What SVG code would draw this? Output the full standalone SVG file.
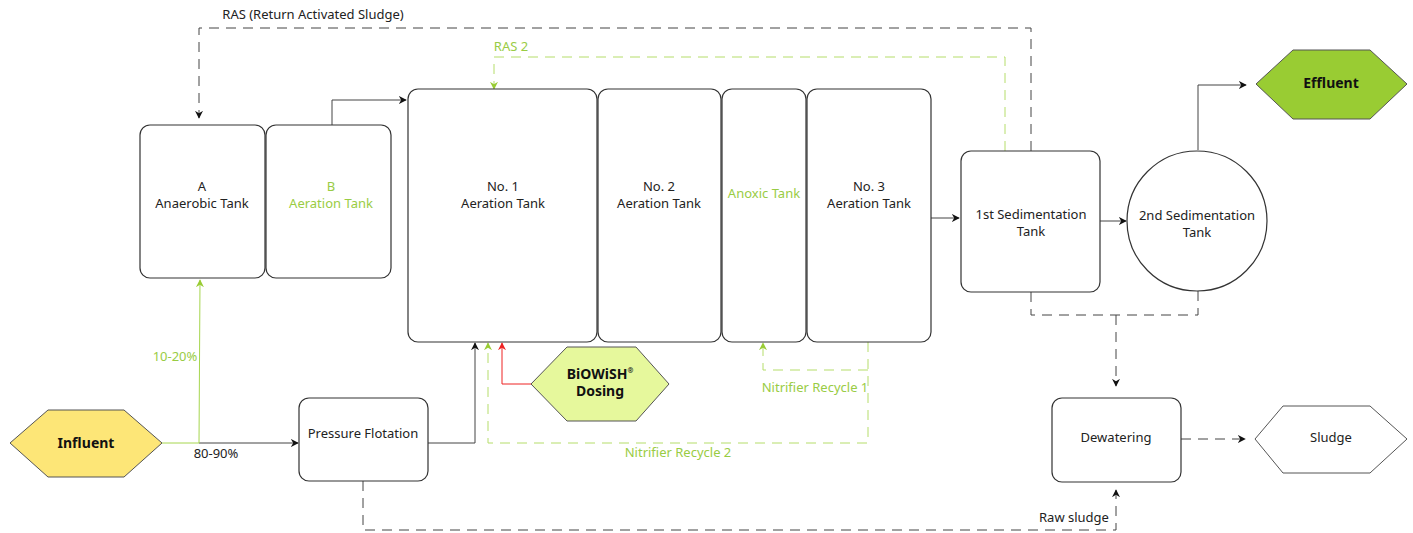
<svg xmlns="http://www.w3.org/2000/svg" width="1413" height="533" viewBox="0 0 1413 533">
<style>
text{font-family:"Noto Sans","Open Sans","Liberation Sans",sans-serif;font-size:13px;fill:#222;text-anchor:middle;dominant-baseline:middle}
.g{fill:#99cc44}
.b{font-weight:bold;font-size:14px;fill:#111}
.box{fill:#fff;stroke:#333;stroke-width:1.2}
.ln{fill:none;stroke:#444;stroke-width:1}
.lg{fill:none;stroke:#a6d64e;stroke-width:1}
.dk{fill:none;stroke:#444;stroke-width:1;stroke-dasharray:10 7}
.dg{fill:none;stroke:#b5dd6a;stroke-width:1;stroke-dasharray:10 7}
.rd{fill:none;stroke:#ee2222;stroke-width:1}
</style>
<defs>
<marker id="ak" viewBox="0 0 10 10" refX="9" refY="5" markerWidth="8" markerHeight="8" markerUnits="userSpaceOnUse" orient="auto"><path d="M0,0 L10,5 L0,10 L3,5 Z" fill="#111"/></marker>
<marker id="ag" viewBox="0 0 10 10" refX="9" refY="5" markerWidth="8" markerHeight="8" markerUnits="userSpaceOnUse" orient="auto"><path d="M0,0 L10,5 L0,10 L3,5 Z" fill="#99cc33"/></marker>
<marker id="ar" viewBox="0 0 10 10" refX="9" refY="5" markerWidth="8" markerHeight="8" markerUnits="userSpaceOnUse" orient="auto"><path d="M0,0 L10,5 L0,10 L3,5 Z" fill="#ee2222"/></marker>
</defs>

<g id="connectors">
<path class="dk" d="M1031,151 V28 H199 V118" marker-end="url(#ak)"/>
<path class="dg" d="M1005,151 V57 H494 V89" marker-end="url(#ag)"/>
<path class="ln" d="M332,125 V100 H406" marker-end="url(#ak)"/>
<path class="lg" d="M162,443 H199"/>
<path class="ln" d="M199,443 H298" marker-end="url(#ak)" stroke="#777"/>
<path class="lg" d="M199,443 L200,280" marker-end="url(#ag)"/>
<path class="ln" d="M428,443 H475 V343" marker-end="url(#ak)" stroke="#777"/>
<path class="dg" d="M868,342 V443 H488 V343" marker-end="url(#ag)"/>
<path class="dg" d="M868,370 H763 V343" marker-end="url(#ag)"/>
<path class="rd" d="M531,384 H502 V343" marker-end="url(#ar)"/>
<path class="ln" d="M931,218 H959" marker-end="url(#ak)"/>
<path class="ln" d="M1100,221 H1126" marker-end="url(#ak)" stroke="#777"/>
<path class="ln" d="M1198,150 V85 H1246" marker-end="url(#ak)" stroke="#777"/>
<path class="dk" d="M1031,292 V315 H1198 V291"/>
<path class="dk" d="M1116,315 V386" marker-end="url(#ak)"/>
<path class="dk" d="M1181,439 H1245" marker-end="url(#ak)"/>
<path class="dk" d="M363,481 V530 H1116 V490" marker-end="url(#ak)"/>
<text x="313" y="16" font-size="12.3">RAS (Return Activated Sludge)</text>
<text x="511" y="48" class="g">RAS 2</text>
<text x="175" y="358" class="g">10-20%</text>
<text x="216" y="455">80-90%</text>
<text x="815" y="389" class="g">Nitrifier Recycle 1</text>
<text x="678" y="454" class="g">Nitrifier Recycle 2</text>
<text x="1074" y="519">Raw sludge</text>
</g>

<g id="tankA"><rect class="box" x="140" y="125" width="125" height="153" rx="10"/><text x="202" y="188">A</text><text x="202" y="205">Anaerobic Tank</text></g>
<g id="tankB"><rect class="box" x="266" y="125" width="125" height="153" rx="10"/><text x="331" y="188" class="g">B</text><text x="331" y="205" class="g">Aeration Tank</text></g>
<g id="no1"><rect class="box" x="408" y="89" width="189" height="253" rx="10"/><text x="503" y="188">No. 1</text><text x="503" y="205">Aeration Tank</text></g>
<g id="no2"><rect class="box" x="598" y="89" width="123" height="253" rx="10"/><text x="659" y="188">No. 2</text><text x="659" y="205">Aeration Tank</text></g>
<g id="anoxic"><rect class="box" x="722" y="89" width="84" height="253" rx="10"/><text x="764" y="195" class="g">Anoxic Tank</text></g>
<g id="no3"><rect class="box" x="807" y="89" width="124" height="253" rx="10"/><text x="869" y="188">No. 3</text><text x="869" y="205">Aeration Tank</text></g>
<g id="sed1"><rect class="box" x="961" y="151" width="139" height="141" rx="10"/><text x="1031" y="216">1st Sedimentation</text><text x="1031" y="233">Tank</text></g>
<g id="sed2"><circle class="box" cx="1197" cy="221" r="70"/><text x="1197" y="217">2nd Sedimentation</text><text x="1197" y="234">Tank</text></g>
<g id="effluent"><polygon points="1256,84 1293,50 1370,50 1407,84 1370,119 1293,119" fill="#99cc33" stroke="#555"/><text x="1331" y="84" class="b">Effluent</text></g>
<g id="influent"><polygon points="10,443 48,410 124,410 162,443 124,477 48,477" fill="#fde677" stroke="#555"/><text x="86" y="444" class="b">Influent</text></g>
<g id="flotation"><rect class="box" x="299" y="398" width="129" height="83" rx="10"/><text x="363" y="435">Pressure Flotation</text></g>
<g id="biowish"><polygon points="531,384 567,347 636,347 669,384 636,421 567,421" fill="#e6f89c" stroke="#555"/><text x="600" y="375" class="b">BiOWiSH<tspan font-size="7" dy="-4">®</tspan></text><text x="600" y="392" class="b">Dosing</text></g>
<g id="dewatering"><rect class="box" x="1052" y="398" width="129" height="84" rx="10"/><text x="1116" y="439">Dewatering</text></g>
<g id="sludge"><polygon points="1255,439 1283,406 1370,406 1407,439 1370,473 1283,473" fill="#fff" stroke="#555"/><text x="1331" y="439" font-size="12">Sludge</text></g>
</svg>
